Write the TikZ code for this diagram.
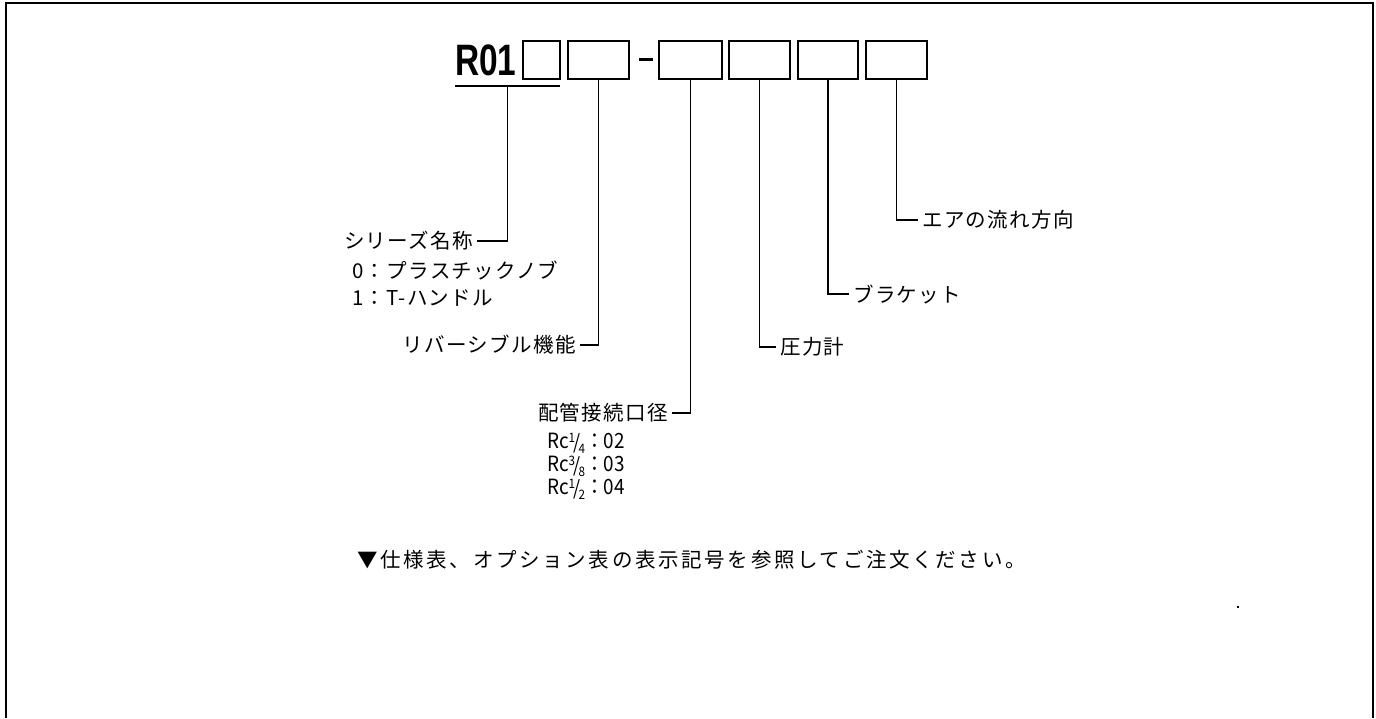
\documentclass[tikz,border=0pt]{standalone}
\usepackage{graphicx}
\usepackage{fontspec}
\newfontfamily\jp{Noto Sans CJK JP}
\newfontfamily\rfont{Liberation Sans}
\newcommand{\myfrac}[2]{\raisebox{0.5ex}{\fontsize{13}{12}\selectfont #1}\kern-2pt\raisebox{-0.15ex}{\fontsize{20}{19}\selectfont /}\kern-2pt\raisebox{-0.45ex}{\fontsize{13}{12}\selectfont #2}}
\begin{document}
\begin{tikzpicture}[x=1pt,y=-1pt]
\tikzset{
  bx/.style={draw, line width=1.3pt, minimum height=38pt, inner sep=0pt},
  lab/.style={font=\jp\fontsize{20.5}{24}\selectfont\addfontfeature{LetterSpace=6.5}, inner xsep=4pt, inner ysep=0pt},
  rclab/.style={font=\jp\fontsize{21}{24}\selectfont, inner sep=0pt, anchor=west},
  ln/.style={line width=1.4pt},
  frame/.style={line width=2pt},
}
\useasboundingbox (0,0) rectangle (1376,718);
% frame (open at the bottom)
\coordinate (fbl) at (6,718);
\coordinate (ftl) at (6,3);
\coordinate (ftr) at (1373,3);
\coordinate (fbr) at (1373,718);
\draw[frame] (fbl) -- (ftl) -- (ftr) -- (fbr);
% model code
\node[font=\rfont\bfseries\fontsize{44}{44}\selectfont, inner sep=0pt, anchor=base west] (r01) at (455,75) {\scalebox{0.76}[1]{R01}};
\node[bx, minimum width=37pt] (b1) at (541.5,60) {};
\node[bx, minimum width=61pt] (b2) at (598.5,60) {};
\node[inner sep=0pt] (dash) at (645.5,59) {\rule{14pt}{3pt}};
\node[bx, minimum width=63pt] (b3) at (690.5,60) {};
\node[bx, minimum width=61pt] (b4) at (759.5,60) {};
\node[bx, minimum width=60pt] (b5) at (828,60) {};
\node[bx, minimum width=61pt] (b6) at (896.5,60) {};
\coordinate (ul1) at (455,86);
\coordinate (ul2) at (560,86);
\coordinate (ulm) at (507.5,86);
\draw[ln] (ul1) -- (ul2);
% labels
\node[lab, anchor=east] (ser) at (477,241) {シリーズ名称};
\node[lab, anchor=west] (o0) at (348,270) {0：プラスチックノブ};
\node[lab, anchor=west] (o1) at (348,298) {1：T-ハンドル};
\node[lab, anchor=east] (rev) at (580,345) {リバーシブル機能};
\node[lab, anchor=east] (pipe) at (672,413) {配管接続口径};
\node[rclab] (rc1) at (547,443) {\scalebox{0.9}[1]{Rc\myfrac{1}{4}：02}};
\node[rclab] (rc2) at (547,466) {\scalebox{0.9}[1]{Rc\myfrac{3}{8}：03}};
\node[rclab] (rc3) at (547,489) {\scalebox{0.9}[1]{Rc\myfrac{1}{2}：04}};
\node[lab, anchor=west] (gau) at (776,347) {圧力計};
\node[lab, anchor=west] (brk) at (849,294) {ブラケット};
\node[lab, anchor=west] (air) at (918,220) {エアの流れ方向};
\node[lab, anchor=west, inner xsep=0pt, font=\jp\fontsize{20.5}{24}\selectfont\addfontfeature{LetterSpace=13}] (note) at (357,560) {▼仕様表、オプション表の表示記号を参照してご注文ください。};
% connectors
\draw[ln] (ulm) |- (ser.east);
\draw[ln] (b2.south) |- (rev.east);
\draw[ln] (b3.south) |- (pipe.east);
\draw[ln] (b4.south) |- (gau.west);
\draw[ln] (b5.south) |- (brk.west);
\draw[ln] (b6.south) |- (air.west);
% speck
\fill (1237,606) rectangle (1239,608);
\end{tikzpicture}
\end{document}
